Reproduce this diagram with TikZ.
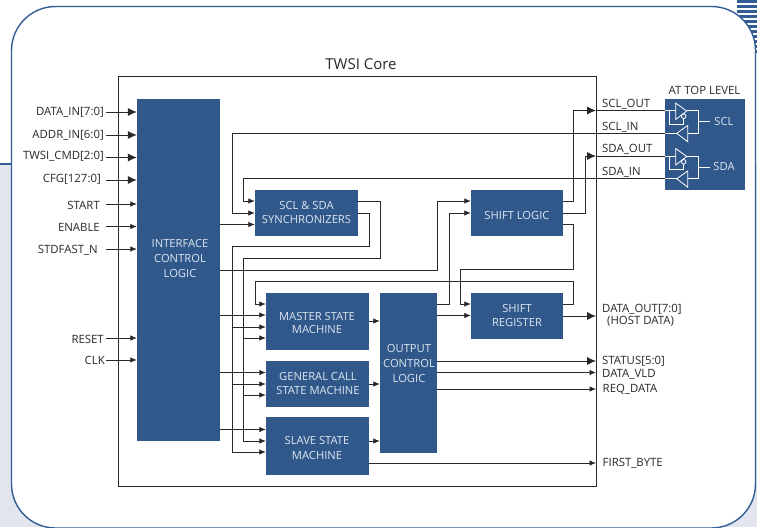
\documentclass[tikz,border=0pt]{standalone}
\usepackage{fontspec}
\setmainfont{Open Sans}
\usepackage{tikz}
\usetikzlibrary{calc, arrows.meta}

\definecolor{blockblue}{HTML}{30588A}
\definecolor{blocktext}{HTML}{DDE5F0}
\definecolor{rimblue}{HTML}{2F5D94}
\definecolor{pagegrey}{HTML}{E3E5EE}
\definecolor{wirecol}{HTML}{2B2728}

\tikzset{
    blockbox/.style={fill=blockblue, text=blocktext, align=center, inner sep=0pt, font=\fontsize{11.2}{13.5}\selectfont},
    looseblock/.style={blockbox, font=\fontsize{11.2}{15}\selectfont},
    sigtext/.style={text=wirecol, inner sep=0pt, text height=8pt, text depth=0pt, font=\fontsize{11.4}{13}\selectfont},
    wire/.style={draw=wirecol, line width=0.8pt},
    sig/.style={wire, -{Latex[length=6.5pt, width=5.5pt]}},
    bus/.style={wire, -{Latex[length=9pt, width=8pt]}},
    gate/.style={draw=white, line width=0.8pt, line join=miter},
}

\begin{document}
\begin{tikzpicture}[x=1pt, y=-1pt]
    \useasboundingbox (0,0) rectangle (757,527);

    % 1. Nen trang va khung bo tron
    \fill[pagegrey] (0,164) rectangle (757,527);
    \draw[rimblue, line width=1.1pt] (0,164) -- (12,164);
    \foreach \y in {0,5,...,50} {
        \fill[rimblue] (737,\y) rectangle (757,\y+3.4);
    }
    \draw[rimblue, fill=white, line width=1.4pt, rounded corners=44pt] (11.5,6.5) rectangle (755.5,528);

    % 2. Cac khoi
    \draw[wirecol, line width=0.9pt] (118,76) rectangle (596.5,486);
    \node[text=wirecol, font=\fontsize{15}{17}\selectfont] (core) at (361,64) {TWSI Core};

    \node[blockbox, minimum width=83pt, minimum height=342pt] (iface) at (178.5,270) {};
    \node[looseblock] (ifacetext) at (180,258) {INTERFACE\\CONTROL\\LOGIC};
    \node[blockbox, minimum width=103pt, minimum height=46pt] (sync) at (306.5,213) {};
    \node[blockbox] (synctext) at (306.5,212.5) {SCL \& SDA\\SYNCHRONIZERS};
    \node[blockbox, minimum width=92pt, minimum height=46pt] (shiftl) at (517,213) {};
    \node[blockbox] (shiftltext) at (517,215) {SHIFT LOGIC};
    \node[blockbox, minimum width=92pt, minimum height=46pt] (shiftr) at (517,316) {};
    \node[blockbox] (shiftrtext) at (517,315.5) {SHIFT\\REGISTER};
    \node[blockbox, minimum width=103pt, minimum height=57pt] (master) at (317.5,321.5) {};
    \node[blockbox] (mastertext) at (317,323) {MASTER STATE\\MACHINE};
    \node[blockbox, minimum width=103pt, minimum height=46pt] (general) at (317.5,384) {};
    \node[blockbox] (generaltext) at (318,383.5) {GENERAL CALL\\STATE MACHINE};
    \node[blockbox, minimum width=103pt, minimum height=58pt] (slave) at (317.5,446) {};
    \node[looseblock] (slavetext) at (317,447.5) {SLAVE STATE\\MACHINE};
    \node[blockbox, minimum width=57pt, minimum height=160pt] (output) at (408.5,373) {};
    \node[looseblock] (outputtext) at (409,363) {OUTPUT\\CONTROL\\LOGIC};
    \node[blockbox, minimum width=80pt, minimum height=91pt] (top) at (705,144.5) {};
    \node[sigtext] (toplabel) at (704.5,90) {AT TOP LEVEL};

    % 3. Tin hieu vao
    \foreach \nm/\txt/\xx/\yy/\ty/\tipst in {datain/DATA\_IN[7:0]/104/112/111/bus, addrin/ADDR\_IN[6:0]/104/135/134/bus,
        cmdin/TWSI\_CMD[2:0]/104/157.5/155/bus, cfgin/CFG[127:0]/101/180/178/bus, startin/START/100/204/205/sig,
        enablein/ENABLE/100/226.5/227/sig, stdin/STDFAST\_N/98/249/249/sig, resetin/RESET/104/338/339/sig, clkin/CLK/105/360/360/sig} {
        \coordinate (\nm p) at (106,\yy);
        \node[sigtext, anchor=east] (\nm) at (\xx,\ty) {\txt};
        \draw[\tipst] (\nm p) -- (iface.west |- \nm p);
    }

    % 4. Tin hieu ra
    \foreach \nm/\txt/\xx/\yy in {sclout/SCL\_OUT/602/103, sclin/SCL\_IN/602/126, sdaout/SDA\_OUT/602/148, sdain/SDA\_IN/602/171,
        dataout/DATA\_OUT[7:0]/602/308, hostdata/(HOST DATA)/607/320, status/STATUS[5:0]/602/360, datavld/DATA\_VLD/602/373,
        reqdata/REQ\_DATA/602.5/388, firstbyte/FIRST\_BYTE/602.5/462} {
        \node[sigtext, anchor=west] (\nm) at (\xx,\yy) {\txt};
    }

    % 5. Bo dong bo
    \draw[sig] (top.west |- 0,133) -- (232,133) -- (232,213) -- (sync.west |- 0,213);
    \draw[sig] (top.west |- 0,178.5) -- (243,178.5) -- (243,201) -- (sync.west |- 0,201);
    \draw[sig] (iface.east |- 0,224.5) -- (sync.west |- 0,224.5);
    \draw[wire] (sync.east |- 0,201) -- (380,201) -- (380,258.5) -- (243,258.5) -- (243,441);
    \draw[wire] (sync.east |- 0,213) -- (369,213) -- (369,246.5) -- (232,246.5) -- (232,452);
    \foreach \yy/\blk in {338/master, 395/general, 441/slave} {
        \draw[sig] (243,\yy) -- (\blk.west |- 0,\yy);
    }
    \foreach \yy/\blk in {327/master, 384/general, 452/slave} {
        \draw[sig] (232,\yy) -- (\blk.west |- 0,\yy);
    }
    \foreach \yy/\blk in {315/master, 372.5/general, 429.5/slave} {
        \draw[sig] (iface.east |- 0,\yy) -- (\blk.west |- 0,\yy);
    }

    % 6. Khoi dich
    \draw[sig] (iface.east |- 0,270) -- (437,270) -- (437,201) -- (shiftl.west |- 0,201);
    \draw[sig] (output.east |- 0,304) -- (449,304) -- (449,213) -- (shiftl.west |- 0,213);
    \draw[sig] (output.east |- 0,315.5) -- (shiftr.west |- 0,315.5);
    \draw[sig] (shiftl.east |- 0,224) -- (573.5,224) -- (573.5,269.5) -- (460,269.5) -- (460,304) -- (shiftr.west |- 0,304);
    \draw[sig] (shiftr.east |- 0,304) -- (573.5,304) -- (573.5,281) -- (255,281) -- (255,304) -- (master.west |- 0,304);
    \draw[bus] (shiftr.east |- 0,316) -- (596,316);

    % 7. SCL, SDA ra ngoai
    \draw[bus] (shiftl.east |- 0,201) -- (573.5,201) -- (573.5,110.5) -- (596,110.5);
    \draw[wire] (596,110.5) -- (top.west |- 0,110.5);
    \draw[bus] (shiftl.east |- 0,213) -- (585,213) -- (585,156) -- (596,156);
    \draw[wire] (596,156) -- (top.west |- 0,156);

    % 8. May trang thai
    \foreach \yy/\blk in {321/master, 384/general, 441/slave} {
        \draw[sig] (\blk.east |- 0,\yy) -- (output.west |- 0,\yy);
    }
    \draw[bus] (output.east |- 0,361) -- (596,361);
    \draw[sig] (output.east |- 0,372.5) -- (596,372.5);
    \draw[sig] (output.east |- 0,389) -- (596,389);
    \draw[sig] (slave.east |- 0,463) -- (596,463);

    % 9. Cong dem
    \foreach \yy/\nm/\txt in {0/scl/SCL, 45.5/sda/SDA} {
        \begin{scope}[shift={(0,\yy)}]
            \draw[gate] (665,110.5) -- (675.7,110.5);
            \draw[gate] (675.7,103) -- (675.7,119.5) -- (686.7,111) -- cycle;
            \draw[gate] (683.7,116.3) circle (2.3pt);
            \draw[gate] (669.3,110.5) -- (669.3,124.3) -- (683.7,124.3) -- (683.7,118.6);
            \draw[gate] (686.7,110.5) -- (698.3,110.5) -- (698.3,133) -- (687.7,133);
            \draw[gate] (687.7,125.5) -- (687.7,141.7) -- (676.7,133.3) -- cycle;
            \draw[gate] (676.7,133.3) -- (665,133.3);
            \draw[gate] (698.3,121.7) -- (710,121.7);
            \node[blockbox] (\nm) at (724,121) {\txt};
        \end{scope}
    }
\end{tikzpicture}
\end{document}
